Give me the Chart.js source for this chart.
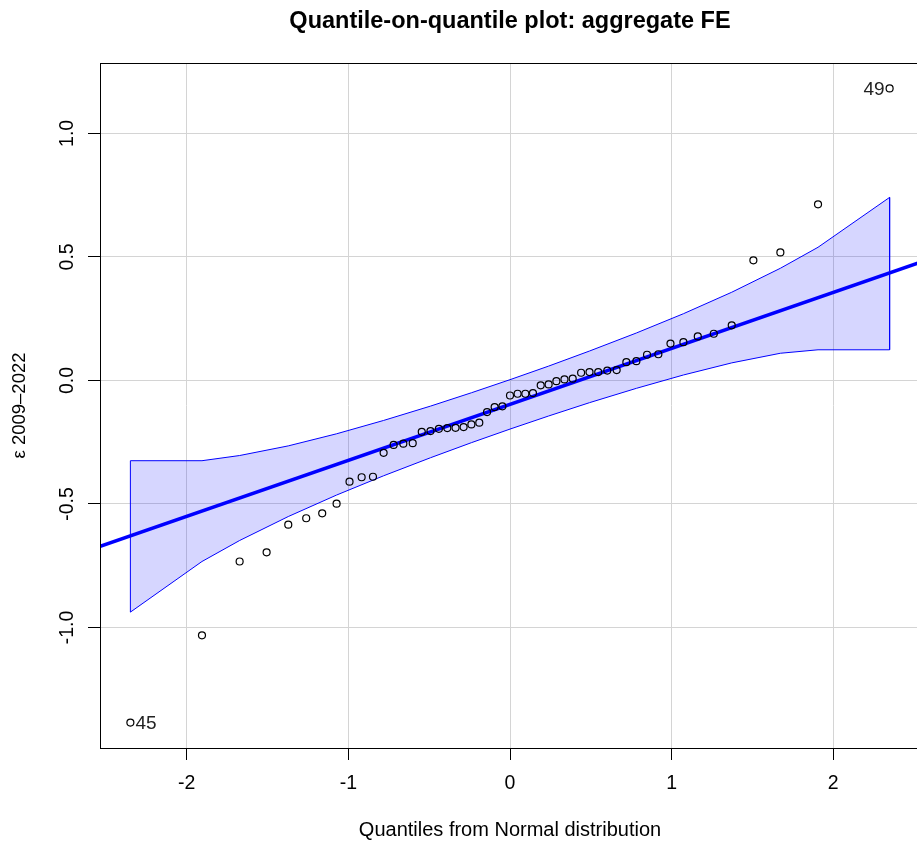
<!DOCTYPE html>
<html>
<head>
<meta charset="utf-8">
<script src="https://cdn.jsdelivr.net/npm/chart.js@4.4.1/dist/chart.umd.min.js"></script>
<style>
  html, body { margin: 0; padding: 0; background: #fff; overflow: hidden; }
  #wrap { width: 930px; height: 844px; }
</style>
</head>
<body>
<div id="wrap"><canvas id="qq" width="930" height="844"></canvas></div>
<script>
// Normal quantiles (x) and sorted residuals (y), 53 countries
const theoQuantiles = [-2.349, -1.906, -1.673, -1.506, -1.372, -1.261, -1.162, -1.073, -0.993, -0.918,
  -0.848, -0.782, -0.720, -0.660, -0.602, -0.546, -0.492, -0.440, -0.388, -0.337, -0.287, -0.239,
  -0.190, -0.142, -0.095, -0.047, 0, 0.047, 0.095, 0.142, 0.190, 0.239, 0.287, 0.337, 0.388, 0.440,
  0.492, 0.546, 0.602, 0.660, 0.720, 0.782, 0.848, 0.918, 0.993, 1.073, 1.162, 1.261, 1.372, 1.506,
  1.673, 1.906, 2.349];
const residuals = [-1.385, -1.032, -0.733, -0.696, -0.584, -0.558, -0.538, -0.499, -0.410, -0.392,
  -0.390, -0.293, -0.261, -0.256, -0.254, -0.208, -0.205, -0.196, -0.193, -0.192, -0.189, -0.178,
  -0.171, -0.128, -0.108, -0.105, -0.061, -0.054, -0.054, -0.051, -0.020, -0.016, -0.003, 0.004, 0.007,
  0.031, 0.034, 0.034, 0.040, 0.042, 0.074, 0.078, 0.104, 0.106, 0.149, 0.155, 0.178, 0.189, 0.223,
  0.486, 0.518, 0.713, 1.182];

// confidence envelope
const bandX     = [-2.349, -1.906, -1.673, -1.372, -1.073, -0.782, -0.492, -0.239, 0, 0.239, 0.492, 0.782, 1.073, 1.372, 1.673, 1.906, 2.349];
const bandUpper = [-0.325, -0.325, -0.304, -0.265, -0.216, -0.162, -0.104, -0.050, 0.003, 0.058, 0.119, 0.192, 0.270, 0.357, 0.454, 0.539, 0.741];
const bandLower = [-0.938, -0.733, -0.648, -0.551, -0.464, -0.386, -0.313, -0.252, -0.197, -0.144, -0.090, -0.032, 0.022, 0.071, 0.110, 0.124, 0.124];

// reference line
const refLineX = [-2.7, 2.7];
const refLineY = [-0.709, 0.515];

const xTicks = [-2, -1, 0, 1, 2];
const yTicks = [-1, -0.5, 0, 0.5, 1];

// labelled outliers
const idIndex = [0, 52];
const idText  = ['45', '49'];
const idSide  = ['right', 'left'];

const points = theoQuantiles.map((x, i) => ({ x, y: residuals[i] }));
const band = [
  ...bandX.map((x, i) => ({ x, y: bandUpper[i] })),
  ...bandX.map((x, i) => ({ x, y: bandLower[i] })).reverse(),
  { x: bandX[0], y: bandUpper[0] }
];
const refLine = refLineX.map((x, i) => ({ x, y: refLineY[i] }));

const font = '"Liberation Sans", Arial, sans-serif';

const boxPlugin = {
  id: 'box',
  afterDatasetsDraw(chart) {
    const { ctx, chartArea: a } = chart;
    ctx.save();
    ctx.strokeStyle = '#000';
    ctx.lineWidth = 1;
    ctx.strokeRect(a.left + 0.5, a.top + 0.5, a.right - a.left, a.bottom - a.top);
    ctx.restore();
  }
};

const idPlugin = {
  id: 'ids',
  afterDatasetsDraw(chart) {
    const { ctx, scales } = chart;
    ctx.save();
    ctx.font = '19px ' + font;
    ctx.fillStyle = '#222';
    ctx.textBaseline = 'middle';
    idIndex.forEach((idx, k) => {
      const px = scales.x.getPixelForValue(theoQuantiles[idx]);
      const py = scales.y.getPixelForValue(residuals[idx]);
      if (idSide[k] === 'right') { ctx.textAlign = 'left'; ctx.fillText(idText[k], px + 5, py + 1); }
      else { ctx.textAlign = 'right'; ctx.fillText(idText[k], px - 5, py + 1); }
    });
    ctx.restore();
  }
};

new Chart(document.getElementById('qq'), {
  type: 'scatter',
  data: {
    datasets: [
      {
        label: 'residuals',
        data: points,
        pointStyle: 'circle',
        pointRadius: 3.5,
        pointBorderWidth: 1.2,
        pointBorderColor: '#000',
        pointBackgroundColor: 'rgba(0,0,0,0)',
        showLine: false
      },
      {
        label: 'line',
        data: refLine,
        showLine: true,
        borderColor: '#0000ff',
        borderWidth: 3.5,
        pointRadius: 0
      },
      {
        label: 'envelope',
        data: band,
        showLine: true,
        fill: 'shape',
        backgroundColor: 'rgba(0,0,255,0.16)',
        borderColor: '#0000ff',
        borderWidth: 1,
        pointRadius: 0,
        tension: 0
      }
    ]
  },
  options: {
    responsive: false,
    animation: false,
    layout: { padding: { left: 0, right: 10, top: 0, bottom: 0 } },
    plugins: {
      legend: { display: false },
      tooltip: { enabled: false },
      title: {
        display: true,
        text: 'Quantile-on-quantile plot: aggregate FE',
        fullSize: false,
        color: '#000',
        font: { family: font, size: 23.5, weight: 'bold', lineHeight: 1.2 },
        padding: { top: 7, bottom: 27.8 }
      }
    },
    scales: {
      x: {
        type: 'linear',
        min: -2.537, max: 2.537,
        afterBuildTicks: s => { s.ticks = xTicks.map(v => ({ value: v })); },
        afterFit: s => { s.height = 96; },
        grid: { color: '#d4d4d4', lineWidth: 1, tickColor: '#000', tickLength: 12 },
        border: { display: false },
        ticks: { color: '#000', font: { family: font, size: 19.5 }, padding: 12, maxRotation: 0,
                 callback: v => String(v) },
        title: { display: true, text: 'Quantiles from Normal distribution', color: '#000',
                 font: { family: font, size: 20, lineHeight: 1.2 }, padding: { top: 0, bottom: 2 } }
      },
      y: {
        type: 'linear',
        min: -1.488, max: 1.285,
        afterBuildTicks: s => { s.ticks = yTicks.map(v => ({ value: v })); },
        afterFit: s => { s.width = 100; },
        grid: { color: '#d4d4d4', lineWidth: 1, tickColor: '#000', tickLength: 12 },
        border: { display: false },
        ticks: { color: '#000', font: { family: font, size: 19.5 }, padding: 4,
                 minRotation: 90, maxRotation: 90, crossAlign: 'center',
                 callback: v => v.toFixed(1) },
        title: { display: true, text: 'ε 2009–2022', color: '#000',
                 font: { family: font, size: 18.5, lineHeight: 1.2 }, padding: { top: 9, bottom: 0 } }
      }
    }
  },
  plugins: [boxPlugin, idPlugin]
});
</script>
</body>
</html>
